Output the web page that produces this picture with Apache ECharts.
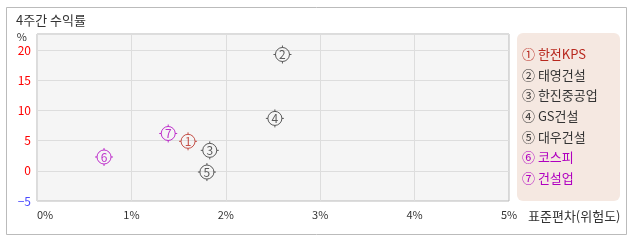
<!DOCTYPE html>
<html>
<head>
<meta charset="utf-8">
<script src="https://cdn.jsdelivr.net/npm/echarts@6/dist/echarts.min.js"></script>
<style>html,body{margin:0;padding:0;background:#fff;}#c{width:638px;height:242px;}</style>
</head>
<body>
<div id="c"></div>
<script>
const names = ['한전KPS', '태영건설', '한진중공업', 'GS건설', '대우건설', '코스피', '건설업'];
const risk = [1.60, 2.60, 1.83, 2.52, 1.80, 0.71, 1.39];
const returns = [4.9, 19.3, 3.4, 8.7, -0.2, 2.3, 6.2];
const circled = ['①', '②', '③', '④', '⑤', '⑥', '⑦'];
const xTicks = [0, 1, 2, 3, 4, 5];
const yTicks = [-5, 0, 5, 10, 15, 20];

const itemColors = ['#b8281e', '#333333', '#333333', '#333333', '#333333', '#b000c0', '#b000c0'];
const FONT = '"Noto Sans CJK KR", "Noto Sans", sans-serif';
const markerPath = 'path://M0,-9L0,-7M0,7L0,9M-9,0L-7,0M7,0L9,0M7,0A7,7 0 1,1 -7,0A7,7 0 1,1 7,0Z';

const series = names.map((n, i) => ({
  name: n,
  type: 'scatter',
  symbol: markerPath,
  symbolSize: 18,
  itemStyle: { color: 'rgba(0,0,0,0)', borderColor: itemColors[i], borderWidth: 1 },
  label: {
    show: true, position: 'inside', formatter: String(i + 1),
    color: itemColors[i], fontSize: 12, fontFamily: FONT
  },
  data: [[risk[i], returns[i]]]
}));

const chart = echarts.init(document.getElementById('c'));
chart.setOption({
  animation: false,
  textStyle: { fontFamily: FONT },
  graphic: [
    { type: 'rect', z: -10, shape: { x: 6.5, y: 7.5, width: 620, height: 227 },
      style: { fill: '#fff', stroke: '#bbbbbb', lineWidth: 1 } },
    { type: 'rect', z: -5, shape: { x: 517, y: 33, width: 103, height: 168, r: 6 },
      style: { fill: '#f5e8e1' } }
  ],
  title: {
    text: '4주간 수익률', left: 16, top: 14, padding: 0,
    textStyle: { fontSize: 13, fontWeight: 'normal', color: '#333', fontFamily: FONT }
  },
  legend: {
    orient: 'vertical', left: 517, top: 47, padding: 0,
    itemWidth: 0, itemHeight: 14, itemGap: 7.2, icon: 'none',
    selectedMode: false,
    data: names.map((n, i) => ({ name: n, textStyle: { color: itemColors[i] } })),
    formatter: (n) => circled[names.indexOf(n)] + ' ' + n,
    textStyle: { fontSize: 13, fontFamily: FONT }
  },
  grid: {
    left: 37, right: 129, top: 34, bottom: 41, show: true,
    backgroundColor: '#f5f5f5', borderColor: '#b8b8b8', borderWidth: 1
  },
  xAxis: {
    type: 'value', min: xTicks[0], max: xTicks[xTicks.length - 1], interval: 1,
    name: '표준편차(위험도)', nameLocation: 'end', nameGap: 19,
    nameTextStyle: { color: '#333', fontSize: 13, verticalAlign: 'top', padding: [9, 0, 0, 0], fontFamily: FONT },
    axisLine: { show: false, onZero: false }, axisTick: { show: false },
    axisLabel: { formatter: '{value}%', color: '#333', fontSize: 11, margin: 8, fontFamily: FONT, alignMinLabel: 'left' },
    splitLine: { show: true, lineStyle: { color: '#dddddd', width: 1 } }
  },
  yAxis: {
    type: 'value', min: yTicks[0], max: 22.7, interval: 5,
    name: '%', nameLocation: 'end', nameGap: -3,
    nameTextStyle: { color: '#333', fontSize: 11, align: 'right', verticalAlign: 'middle', padding: [0, 10, 0, 0] },
    axisLine: { show: false, onZero: false }, axisTick: { show: false },
    axisLabel: {
      showMaxLabel: false, fontSize: 12, margin: 6, fontFamily: FONT,
      color: (v) => (Number(v) < 0 ? '#4a4aff' : '#ff0000'),
      formatter: (v) => (yTicks.indexOf(v) >= 0 ? (v < 0 ? '−' + Math.abs(v) : String(v)) : '')
    },
    splitLine: { show: true, lineStyle: { color: '#dddddd', width: 1 } }
  },
  series: series
});
</script>
</body>
</html>
